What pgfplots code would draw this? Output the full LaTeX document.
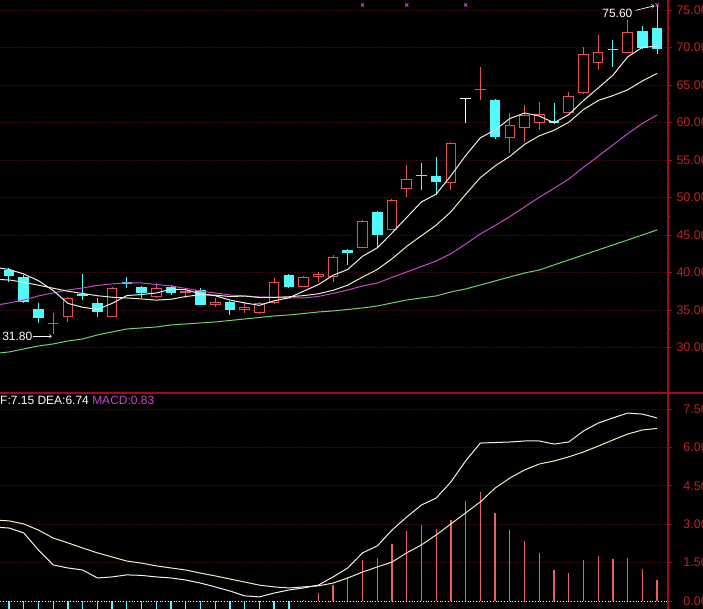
\documentclass[border=0pt]{standalone}
\usepackage{pgfplots}
\usepackage{pgfplotstable}
\pgfplotsset{compat=1.18}
\usepackage{fontspec}
\setmainfont{Liberation Sans}

\definecolor{candleup}{RGB}{235,80,80}
\definecolor{candledn}{RGB}{80,250,250}
\definecolor{maw}{RGB}{240,240,240}
\definecolor{may}{RGB}{238,238,195}
\definecolor{mam}{RGB}{200,70,200}
\definecolor{mag}{RGB}{110,210,110}
\definecolor{axisred}{RGB}{165,10,20}
\definecolor{labred}{RGB}{190,35,35}
\definecolor{gridred}{RGB}{55,8,8}
\definecolor{macdred}{RGB}{235,95,95}

% candles: position, body bottom, body top, low, high
\pgfplotstableread{
i  bot  top  l    h
3  33.1 33.3 31.8 34.6
4  34.1 36.6 33.4 36.7
7  34.1 37.9 34.0 38.0
10 36.7 37.9 36.6 38.6
12 37.3 37.5 36.6 37.9
14 35.7 36.1 35.4 36.6
16 35.0 35.4 34.6 36.1
17 34.6 35.9 34.5 36.0
18 35.9 38.7 35.8 39.3
20 38.1 39.4 38.0 39.5
21 39.4 39.8 38.7 40.1
22 39.4 42.1 38.7 42.3
24 43.3 46.9 43.2 47.0
26 45.7 49.7 45.6 49.8
27 51.1 52.5 50.1 54.3
30 51.9 57.3 51.0 57.4
32 64.3 64.4 63.0 67.4
34 57.9 59.7 55.9 61.3
35 59.3 61.0 57.4 62.3
36 59.9 61.1 59.0 62.7
38 61.3 63.5 61.2 64.1
39 63.9 69.1 63.8 70.1
40 67.9 69.4 67.0 71.7
42 69.3 72.1 69.2 73.7
}\upcandles

\pgfplotstableread{
i  bot  top  l    h
0  39.5 40.3 38.7 40.6
1  36.1 39.4 35.9 39.6
2  33.9 35.1 33.3 35.9
5  36.9 37.1 36.3 39.8
6  34.7 35.9 34.1 36.6
8  38.5 38.7 37.9 39.4
9  37.3 38.1 36.6 38.2
11 37.3 38.1 37.0 38.3
13 35.7 37.7 35.6 37.9
15 35.0 36.1 34.3 36.2
19 38.1 39.7 37.9 39.8
23 42.6 43.0 41.0 43.1
25 45.0 48.1 43.4 48.2
28 52.9 53.0 51.0 54.6
29 52.1 52.9 50.3 55.4
33 58.1 63.0 57.8 63.1
37 59.9 60.2 59.8 62.6
41 69.6 69.7 67.4 71.0
43 69.9 72.2 69.8 72.9
44 69.8 72.6 69.1 75.6
}\dncandles

\pgfplotstableread{
i  bot  top  l    h
31 63.1 63.1 59.9 63.1
}\flatcandles

\pgfplotsset{
  panel/.style={
    scale only axis, width=668pt,
    xmin=-0.611, xmax=44.74,
    axis x line=none, axis y line*=right, xtick=\empty,
    axis line style={draw=axisred, line width=1.3pt},
    tick align=outside, major tick length=4pt, minor tick length=2pt,
    tick style={axisred, line width=0.8pt},
    yticklabel={\pgfmathprintnumber[fixed,fixed zerofill,precision=2,assume math mode=true]{\tick}},
    yticklabel style={anchor=east, inner sep=0pt, xshift=36pt, text=labred,
      font=\fontsize{12.5}{14}\selectfont},
    ymajorgrids, grid style={gridred, densely dotted, line width=0.6pt},
  },
  seg/.style={draw=none, mark=none, forget plot,
    error bars/.cd, y dir=plus, y explicit, error mark=none},
}

% wicks from low to high
\newcommand{\wicks}[2]{\addplot[seg,
  error bar style={draw=#2, line width=1pt}]
  table[x=i, y=l, y error expr={\thisrow{h}-\thisrow{l}}] {#1};}
% bodies from bottom to top
\newcommand{\bodies}[2]{\addplot[seg,
  error bar style={draw=#2, line width=10.6pt}]
  table[x=i, y=bot, y error expr={max(\thisrow{top}-\thisrow{bot},0.133)}] {#1};}

\begin{document}
\begin{tikzpicture}[x=1pt,y=1pt]
\fill[black] (0,0) rectangle (703,609);
\useasboundingbox (0,0) rectangle (703,609);
\clip (0,0) rectangle (703,609);

% price panel
\begin{axis}[panel, at={(0pt,216pt)}, anchor=south west, height=393pt,
  ymin=23.93, ymax=76.33, ytick={30,35,...,75}, minor y tick num=1]

\wicks{\upcandles}{candleup}
\wicks{\dncandles}{candledn}
\wicks{\flatcandles}{white}
\bodies{\upcandles}{candleup}
\bodies{\dncandles}{candledn}
\bodies{\flatcandles}{white}
% hollow inside of the rising candles
\addplot[seg, error bar style={draw=black, line width=8.6pt}]
  table[x=i, y expr={\thisrow{bot}+0.133},
        y error expr={max(\thisrow{top}-\thisrow{bot}-0.266,0)}] {\upcandles};

% MA60
\addplot[mag, line width=1pt] coordinates {
(-1,29.2)(0,29.4)(1,29.8)(2,30.2)(3,30.47)(4,30.87)(5,31.13)(6,31.67)(7,32.07)(8,32.47)
(9,32.6)(10,32.73)(11,33.0)(12,33.13)(13,33.27)(14,33.4)(15,33.6)(16,33.8)(17,34.0)
(18,34.2)(19,34.33)(20,34.53)(21,34.73)(22,34.87)(23,35.07)(24,35.27)(25,35.53)
(26,35.93)(27,36.33)(28,36.6)(29,36.87)(30,37.4)(31,37.8)(32,38.33)(33,38.87)
(34,39.4)(35,39.93)(36,40.33)(37,41.0)(38,41.67)(39,42.33)(40,43.0)(41,43.67)
(42,44.33)(43,45.0)(44,45.67)};
% MA20
\addplot[mam, line width=1pt] coordinates {
(-1,35.6)(0,35.93)(1,36.33)(2,36.87)(3,37.27)(4,37.67)(5,37.93)(6,38.27)(7,38.47)(8,38.6)
(9,38.6)(10,38.4)(11,38.2)(12,37.87)(13,37.53)(14,37.27)(15,37.0)(16,36.87)(17,36.73)
(18,36.68)(19,36.62)(20,36.61)(21,36.8)(22,37.21)(23,37.67)(24,38.19)(25,38.59)
(26,39.34)(27,40.07)(28,40.79)(29,41.53)(30,42.5)(31,43.79)(32,45.14)(33,46.26)
(34,47.44)(35,48.74)(36,50.02)(37,51.22)(38,52.46)(39,54.01)(40,55.51)(41,57.0)
(42,58.5)(43,59.87)(44,61.01)};
% MA10
\addplot[may, line width=1pt] coordinates {
(-1,39.1)(0,39.0)(1,38.7)(2,38.3)(3,37.9)(4,37.5)(5,37.2)(6,36.9)(7,36.7)(8,36.6)
(9,36.47)(10,36.31)(11,36.43)(12,36.79)(13,37.03)(14,36.98)(15,36.79)(16,36.86)
(17,36.66)(18,36.68)(19,36.76)(20,36.91)(21,37.16)(22,37.62)(23,38.31)(24,39.39)
(25,40.39)(26,41.82)(27,43.48)(28,44.9)(29,46.3)(30,48.09)(31,50.42)(32,52.65)
(33,54.2)(34,55.48)(35,57.08)(36,58.22)(37,58.96)(38,60.02)(39,61.72)(40,62.93)
(41,63.58)(42,64.35)(43,65.53)(44,66.54)};
% MA5
\addplot[maw, line width=1pt] coordinates {
(-1,40.7)(0,40.4)(1,39.8)(2,38.9)(3,37.6)(4,35.88)(5,35.36)(6,35.08)(7,35.88)(8,36.92)
(9,37.06)(10,37.26)(11,37.78)(12,37.7)(13,37.14)(14,36.9)(15,36.32)(16,35.94)
(17,35.62)(18,36.22)(19,36.62)(20,37.5)(21,38.38)(22,39.62)(23,40.4)(24,42.16)
(25,43.28)(26,45.26)(27,47.34)(28,49.4)(29,50.44)(30,52.9)(31,55.58)(32,57.96)
(33,59.0)(34,60.52)(35,61.26)(36,60.86)(37,59.96)(38,61.04)(39,62.92)(40,64.6)
(41,66.3)(42,68.74)(43,70.02)(44,70.16)};

% signal marks
\addplot[only marks, mark=x, mark size=2.2pt, mam, line width=0.9pt] coordinates {
(24,75.67)(27,75.67)(31,75.67)(44,75.67)};

\node[white, font=\fontsize{12}{14}\selectfont, anchor=center] at (axis cs:41.3,74.55) {75.60};
\draw[white, ->, line width=0.7pt] (axis cs:42.55,74.95) -- (axis cs:43.8,75.55);
\node[white, font=\fontsize{12}{14}\selectfont, anchor=west, inner sep=0pt] at (axis cs:-0.47,31.5) {31.80};
\draw[white, ->, line width=0.7pt] (axis cs:1.6,31.5) -- (axis cs:2.9,31.5);
\end{axis}

% MACD panel
\begin{axis}[panel, at={(0pt,0pt)}, anchor=south west, height=216pt,
  ymin=-0.3125, ymax=8.125, ytick={0,1.5,3,4.5,6,7.5}]
\addplot[ycomb, candledn, line width=1.3pt] coordinates {
(0,-0.56)(1,-0.7)(2,-1.56)(3,-2.1)(4,-1.96)(5,-1.72)(6,-1.96)(7,-1.56)(8,-1.08)
(9,-0.96)(10,-0.86)(11,-0.78)(12,-0.78)(13,-0.78)(14,-0.86)(15,-0.94)(16,-1.08)
(17,-0.92)(18,-0.5)(19,-0.35)};
\addplot[ycomb, macdred, line width=1.3pt] coordinates {
(20,0.03)(21,0.30)(22,0.62)(23,0.95)(24,1.60)(25,1.67)(26,2.23)(27,2.75)(28,2.97)
(29,2.80)(30,3.16)(31,3.92)(32,4.26)(33,3.43)(34,2.77)(35,2.34)(36,1.86)(37,1.21)
(38,1.08)(39,1.60)(40,1.76)(41,1.64)(42,1.67)(43,1.25)(44,0.83)};
\addplot[white, dotted, line width=0.8pt] coordinates {(-0.611,0)(44.74,0)};
% DEA
\addplot[may, line width=1pt] coordinates {
(-1,3.16)(0,3.13)(1,3.01)(2,2.77)(3,2.46)(4,2.27)(5,2.07)(6,1.88)(7,1.72)(8,1.56)
(9,1.48)(10,1.37)(11,1.29)(12,1.21)(13,1.09)(14,0.98)(15,0.86)(16,0.74)(17,0.62)
(18,0.55)(19,0.51)(20,0.55)(21,0.59)(22,0.70)(23,0.90)(24,1.13)(25,1.33)(26,1.52)
(27,1.88)(28,2.19)(29,2.58)(30,3.01)(31,3.44)(32,3.87)(33,4.41)(34,4.80)(35,5.12)
(36,5.35)(37,5.47)(38,5.63)(39,5.82)(40,6.05)(41,6.29)(42,6.52)(43,6.68)(44,6.74)};
% DIF
\addplot[maw, line width=1pt] coordinates {
(-1,2.89)(0,2.85)(1,2.66)(2,1.99)(3,1.41)(4,1.29)(5,1.21)(6,0.90)(7,0.94)(8,1.02)
(9,1.00)(10,0.94)(11,0.90)(12,0.82)(13,0.70)(14,0.55)(15,0.39)(16,0.20)(17,0.16)
(18,0.31)(19,0.43)(20,0.51)(21,0.62)(22,0.94)(23,1.29)(24,1.88)(25,2.15)(26,2.77)
(27,3.28)(28,3.75)(29,4.02)(30,4.65)(31,5.47)(32,6.17)(33,6.19)(34,6.21)(35,6.25)
(36,6.25)(37,6.13)(38,6.21)(39,6.64)(40,6.95)(41,7.15)(42,7.34)(43,7.30)(44,7.15)};
\end{axis}

\draw[axisred, line width=1.3pt] (0pt,216pt) -- (703pt,216pt);
\node[anchor=west, inner sep=0pt, font=\fontsize{12}{14}\selectfont] at (0pt,209pt)
  {\textcolor{white}{F:7.15 DEA:6.74}\ \textcolor{mam}{MACD:0.83}};
\end{tikzpicture}
\end{document}
